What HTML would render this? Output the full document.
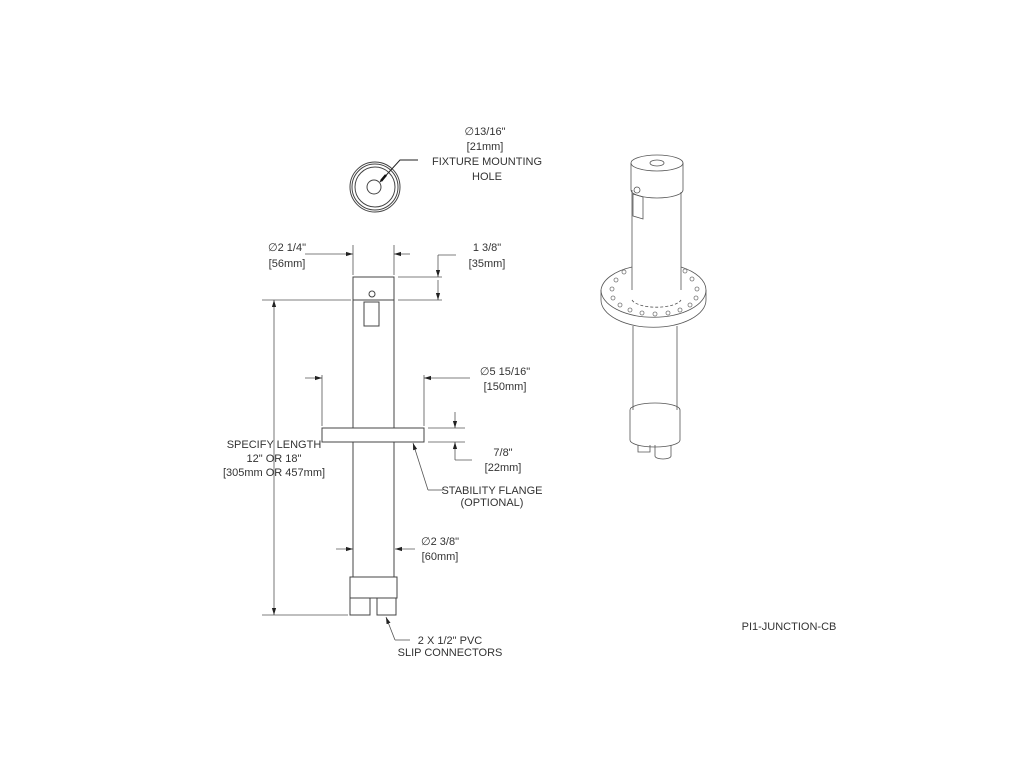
<!DOCTYPE html>
<html><head><style>
body{margin:0;background:#fff}
text{font-family:"Liberation Sans",sans-serif;font-size:11px;fill:#333}
</style></head><body>
<svg width="1024" height="768" viewBox="0 0 1024 768" xmlns="http://www.w3.org/2000/svg">
<defs>
<marker id="a" viewBox="0 0 10 10" refX="10" refY="5" markerWidth="7" markerHeight="7" orient="auto-start-reverse" markerUnits="userSpaceOnUse"><path d="M0,2 L10,5 L0,8z" fill="#222"/></marker>
</defs>
<g stroke="#444" stroke-width="1" fill="none">
<!-- top view -->
<circle cx="375" cy="187" r="25"/><circle cx="375" cy="187" r="23"/><circle cx="375" cy="187" r="20"/>
<circle cx="374" cy="187" r="7"/>
<path d="M380,182 L400,160 L418,160" stroke="#222"/>
<path d="M381,181 L386,175" stroke="#111" stroke-width="2.5"/>
<!-- side view -->
<rect x="353" y="277" width="41" height="23"/>
<rect x="353" y="300" width="41" height="277"/>
<circle cx="372" cy="294" r="3"/>
<rect x="364" y="302" width="15" height="24"/>
<rect x="322" y="428" width="102" height="14" fill="#fff"/>
<rect x="350" y="577" width="47" height="21"/>
<rect x="350" y="598" width="20" height="17"/><rect x="377" y="598" width="19" height="17"/>
<!-- dims -->
<g stroke="#555" stroke-width="0.8">
<path d="M353,245 V275 M394,245 V275"/>
<path d="M305,254 H353" marker-end="url(#a)"/><path d="M410,254 H394" marker-end="url(#a)"/>
<path d="M398,277 H442 M398,300 H442 M438,255 H456"/>
<path d="M438,255 V277" marker-end="url(#a)"/><path d="M438,300 V280" marker-start="url(#a)"/>
<path d="M262,300 H351 M262,615 H348"/>
<path d="M274,300 V615" marker-start="url(#a)" marker-end="url(#a)"/>
<path d="M322,375 V426 M424,375 V426"/>
<path d="M305,378 H322" marker-end="url(#a)"/><path d="M470,378 H424" marker-end="url(#a)"/>
<path d="M428,428 H465 M428,442 H465"/>
<path d="M455,412 V428" marker-end="url(#a)"/><path d="M455,460 V442" marker-end="url(#a)"/><path d="M455,460 H472"/>
<path d="M428,490 L413,443" marker-end="url(#a)"/><path d="M428,490 H443"/>
<path d="M336,549 H353" marker-end="url(#a)"/><path d="M415,549 H395" marker-end="url(#a)"/>
<path d="M395,640 L386,617" marker-end="url(#a)"/><path d="M395,640 H410"/>
</g>
<!-- isometric -->
<g stroke="#555" stroke-width="0.8">
<path d="M631,163 V190 A26,8 0 0 0 683,190 V163"/>
<ellipse cx="657" cy="163" rx="26" ry="8" fill="#fff"/>
<ellipse cx="657" cy="163" rx="7" ry="3"/>
<path d="M632,190 V290 M681,192 V290"/>
<path d="M633,194 L643,197 L643,219 L633,216 Z"/>
<circle cx="637" cy="190" r="3"/>
<path d="M601,290 V300 A52,27 0 0 0 706,300 V290"/>
<path d="M601,290 A52,27 0 0 0 706,290 A52,27 0 0 0 681,267 M632,267 A52,27 0 0 0 601,290"/>
<path d="M632,300 A25,9 0 0 0 681,300" stroke-dasharray="3,2"/>
<path d="M633,326 V410 M677,326 V410"/>
<path d="M630,410 V440 A25,7 0 0 0 680,440 V410 A25,7 0 0 0 630,410"/>
<path d="M638,445 V452 H650 V445 M655,445 V456 A8,3 0 0 0 671,456 V445"/>
</g>
<g fill="none" stroke="#777" stroke-width="0.8">
<circle cx="612" cy="289" r="2"/><circle cx="616" cy="280" r="2"/><circle cx="624" cy="272" r="2"/>
<circle cx="613" cy="298" r="2"/><circle cx="620" cy="305" r="2"/><circle cx="630" cy="310" r="2"/>
<circle cx="642" cy="313" r="2"/><circle cx="655" cy="314" r="2"/><circle cx="668" cy="313" r="2"/>
<circle cx="680" cy="310" r="2"/><circle cx="690" cy="305" r="2"/><circle cx="696" cy="298" r="2"/>
<circle cx="697" cy="289" r="2"/><circle cx="692" cy="279" r="2"/><circle cx="685" cy="271" r="2"/>
</g>
</g>
<g text-anchor="middle">
<text x="485" y="135">∅13/16"</text><text x="485" y="150">[21mm]</text>
<text x="487" y="165">FIXTURE MOUNTING</text><text x="487" y="180">HOLE</text>
<text x="287" y="251">∅2 1/4"</text><text x="287" y="267">[56mm]</text>
<text x="487" y="251">1 3/8"</text><text x="487" y="267">[35mm]</text>
<text x="505" y="375">∅5 15/16"</text><text x="505" y="390">[150mm]</text>
<text x="274" y="448">SPECIFY LENGTH</text><text x="274" y="462">12" OR 18"</text><text x="274" y="476">[305mm OR 457mm]</text>
<text x="503" y="456">7/8"</text><text x="503" y="471">[22mm]</text>
<text x="492" y="494">STABILITY FLANGE</text><text x="492" y="506">(OPTIONAL)</text>
<text x="440" y="545">∅2 3/8"</text><text x="440" y="560">[60mm]</text>
<text x="450" y="644">2 X 1/2" PVC</text><text x="450" y="656">SLIP CONNECTORS</text>
<text x="789" y="630">PI1-JUNCTION-CB</text>
</g>
</svg>
</body></html>
